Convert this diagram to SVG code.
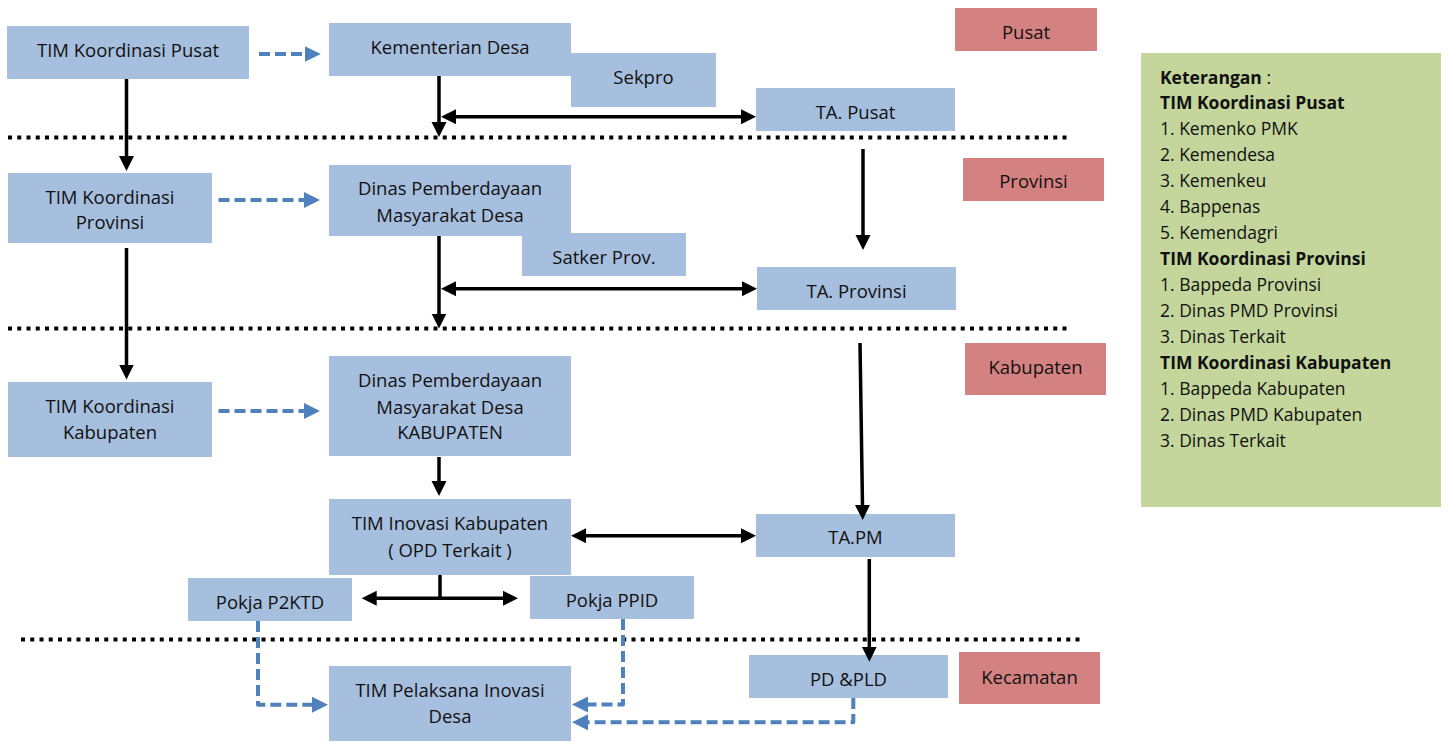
<svg xmlns="http://www.w3.org/2000/svg" width="1451" height="742" viewBox="0 0 1451 742">
<style>
  .bx { fill: #A7BFDE; }
  .rd { fill: #D48281; }
  .lg { fill: #C4D69C; }
  text { font-family: "Open Sans", "Liberation Sans", sans-serif; fill: #111; }
  .t { font-size: 18.5px; text-anchor: middle; }
  .l { font-size: 17.5px; }
  .b { font-weight: bold; }
  .k { fill: none; stroke: #000; stroke-width: 3.5; }
  .ka { marker-end: url(#ah); }
  .kd { marker-start: url(#ah); marker-end: url(#ah); }
  .d { fill: none; stroke: #4F81BD; stroke-width: 4; stroke-dasharray: 11 5; stroke-linejoin: round; marker-end: url(#bh); }
  .sep { fill: none; stroke: #000; stroke-width: 4; stroke-dasharray: 4 5.25; }
</style>
<defs>
  <marker id="ah" markerUnits="userSpaceOnUse" markerWidth="16" markerHeight="16" refX="7" refY="7.5" orient="auto-start-reverse">
    <path d="M0,0 L15,7.5 L0,15 Z" fill="#000"/>
  </marker>
  <marker id="bh" markerUnits="userSpaceOnUse" markerWidth="17" markerHeight="17" refX="8" refY="8" orient="auto">
    <path d="M0,0 L16,8 L0,16 Z" fill="#4F81BD"/>
  </marker>
</defs>
<rect width="1451" height="742" fill="#fff"/>

<g id="separators">
  <line class="sep" x1="8" y1="137.5" x2="1068" y2="137.5"/>
  <line class="sep" x1="8" y1="328.5" x2="1068" y2="328.5"/>
  <line class="sep" x1="21" y1="639.5" x2="1081" y2="639.5"/>
</g>

<g id="nodes">
  <g id="n_tim_koord_pusat"><rect class="bx" x="7" y="26" width="242" height="53"/><text class="t" x="128" y="57">TIM Koordinasi Pusat</text></g>
  <g id="n_kementerian"><rect class="bx" x="329" y="23" width="242" height="53"/><text class="t" x="450" y="53.5">Kementerian Desa</text></g>
  <g id="n_sekpro"><rect class="bx" x="571" y="53" width="145" height="54"/><text class="t" x="643.5" y="83.5">Sekpro</text></g>
  <g id="n_ta_pusat"><rect class="bx" x="756" y="88" width="199" height="43"/><text class="t" x="855.5" y="118.5">TA. Pusat</text></g>
  <g id="n_pusat"><rect class="rd" x="955" y="8" width="142" height="43"/><text class="t" x="1026" y="38.5">Pusat</text></g>

  <g id="n_tim_koord_prov"><rect class="bx" x="8" y="173" width="204" height="70"/><text class="t" x="110" y="203.5">TIM Koordinasi</text><text class="t" x="110" y="229">Provinsi</text></g>
  <g id="n_dinas_prov"><rect class="bx" x="329" y="165" width="242" height="71"/><text class="t" x="450" y="195">Dinas Pemberdayaan</text><text class="t" x="450" y="221.5">Masyarakat Desa</text></g>
  <g id="n_satker"><rect class="bx" x="522" y="233" width="164" height="43"/><text class="t" x="604" y="263.5">Satker Prov.</text></g>
  <g id="n_ta_prov"><rect class="bx" x="757" y="267" width="199" height="43"/><text class="t" x="856.5" y="297.5">TA. Provinsi</text></g>
  <g id="n_provinsi"><rect class="rd" x="963" y="158" width="141" height="43"/><text class="t" x="1033.5" y="187.5">Provinsi</text></g>

  <g id="n_tim_koord_kab"><rect class="bx" x="8" y="382" width="204" height="75"/><text class="t" x="110" y="412.5">TIM Koordinasi</text><text class="t" x="110" y="438.5">Kabupaten</text></g>
  <g id="n_dinas_kab"><rect class="bx" x="329" y="356" width="242" height="100"/><text class="t" x="450" y="386.5">Dinas Pemberdayaan</text><text class="t" x="450" y="413.5">Masyarakat Desa</text><text class="t" x="450" y="438.5">KABUPATEN</text></g>
  <g id="n_kabupaten"><rect class="rd" x="965" y="343" width="141" height="52"/><text class="t" x="1035.5" y="373.5">Kabupaten</text></g>
  <g id="n_tim_inovasi"><rect class="bx" x="329" y="499" width="242" height="76"/><text class="t" x="450" y="530">TIM Inovasi Kabupaten</text><text class="t" x="450" y="557">( OPD Terkait )</text></g>
  <g id="n_tapm"><rect class="bx" x="756" y="514" width="199" height="43"/><text class="t" x="855.5" y="544">TA.PM</text></g>
  <g id="n_p2ktd"><rect class="bx" x="188" y="578" width="164" height="43"/><text class="t" x="270" y="608.5">Pokja P2KTD</text></g>
  <g id="n_ppid"><rect class="bx" x="530" y="576" width="164" height="43"/><text class="t" x="612" y="607">Pokja PPID</text></g>

  <g id="n_tim_pelaksana"><rect class="bx" x="329" y="666" width="242" height="75"/><text class="t" x="450" y="697">TIM Pelaksana Inovasi</text><text class="t" x="450" y="722.5">Desa</text></g>
  <g id="n_pdpld"><rect class="bx" x="749" y="655" width="199" height="43"/><text class="t" x="848.5" y="686">PD &amp;PLD</text></g>
  <g id="n_kecamatan"><rect class="rd" x="959" y="652" width="141" height="52"/><text class="t" x="1029.5" y="683.5">Kecamatan</text></g>

  <g id="n_keterangan">
    <rect class="lg" x="1141" y="53" width="300" height="454"/>
    <text class="l" x="1160" y="83.5"><tspan class="b">Keterangan</tspan> :</text>
    <text class="l b" x="1160" y="109">TIM Koordinasi Pusat</text>
    <text class="l" x="1160" y="135">1. Kemenko PMK</text>
    <text class="l" x="1160" y="161">2. Kemendesa</text>
    <text class="l" x="1160" y="187">3. Kemenkeu</text>
    <text class="l" x="1160" y="213">4. Bappenas</text>
    <text class="l" x="1160" y="239">5. Kemendagri</text>
    <text class="l b" x="1160" y="265">TIM Koordinasi Provinsi</text>
    <text class="l" x="1160" y="291">1. Bappeda Provinsi</text>
    <text class="l" x="1160" y="317">2. Dinas PMD Provinsi</text>
    <text class="l" x="1160" y="343">3. Dinas Terkait</text>
    <text class="l b" x="1160" y="369">TIM Koordinasi Kabupaten</text>
    <text class="l" x="1160" y="395">1. Bappeda Kabupaten</text>
    <text class="l" x="1160" y="421">2. Dinas PMD Kabupaten</text>
    <text class="l" x="1160" y="447">3. Dinas Terkait</text>
  </g>
</g>

<g id="connectors">
  <path class="k ka" d="M126.5,79 V163"/>
  <path class="k ka" d="M439,76 V129"/>
  <path class="k kd" d="M449,116.7 H748"/>
  <path class="k ka" d="M863,149 V242"/>
  <path class="k ka" d="M126.5,248 V371.5"/>
  <path class="k ka" d="M439,236 V320.5"/>
  <path class="k kd" d="M449,288.7 H749"/>
  <path class="k ka" d="M860,343 L862.6,512"/>
  <path class="k ka" d="M439,457 V488"/>
  <path class="k kd" d="M579,535.7 H748"/>
  <path class="k" d="M440,575 V598.3"/>
  <path class="k kd" d="M369.7,598.3 H510"/>
  <path class="k ka" d="M869.3,559 V653.7"/>

  <path class="d" d="M259,54 H312.7"/>
  <path class="d" d="M218.5,200 H312"/>
  <path class="d" d="M218.5,411 H312"/>
  <path class="d" d="M258,621 V704.7 H320"/>
  <path class="d" d="M623,619 V704.5 H580"/>
  <path class="d" d="M853.3,698 V722.3 H580"/>
</g>
</svg>
